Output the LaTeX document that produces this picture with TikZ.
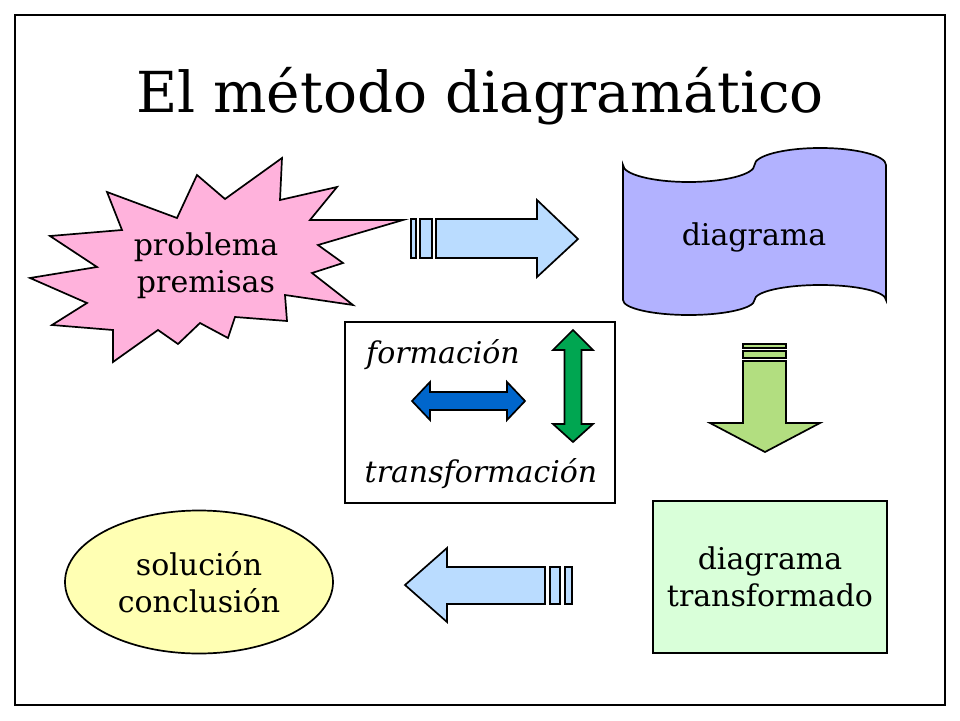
\documentclass[tikz,border=0pt]{standalone}
\usepackage{fontspec}
\setmainfont{DejaVu Serif}
\usetikzlibrary{shapes.geometric}
\definecolor{burstpink}{RGB}{255,178,220}
\definecolor{tapeblue}{RGB}{178,178,255}
\definecolor{arrowblue}{RGB}{186,220,255}
\definecolor{arrowgreen}{RGB}{178,222,128}
\definecolor{darkblue}{RGB}{0,102,204}
\definecolor{darkgreen}{RGB}{0,166,81}
\definecolor{paleyellow}{RGB}{255,255,179}
\definecolor{palegreen}{RGB}{217,255,217}
\tikzset{
  outline/.style={draw=black, line width=1.7pt, line join=miter},
  bodytext/.style={font=\fontsize{30}{37}\selectfont, align=center, inner sep=0pt},
  italtext/.style={font=\fontsize{30}{37}\selectfont\itshape, inner sep=0pt},
}
\begin{document}
\begin{tikzpicture}[x=1pt,y=-1pt]
\useasboundingbox (0,0) rectangle (960,720);
% frame
\draw[line width=1.5pt] (15,15) rectangle (945,705);
% title
\node[font=\fontsize{56.5}{60}\selectfont, anchor=base, inner sep=0pt] (title) at (480,112) {El método diagramático};

% starburst
\draw[outline, fill=burstpink]
  (353,305) -- (285,295) -- (287,321) -- (235,317) -- (228,338) -- (200,323)
  -- (178,344) -- (158,330) -- (113,362) -- (113,330) -- (52,325) -- (87,303)
  -- (30,278) -- (97,267) -- (50,236) -- (122,230) -- (107,192) -- (177,218)
  -- (197,175) -- (225,199) -- (282,158) -- (280,200) -- (337,187) -- (310,220)
  -- (403,220) -- (318,245) -- (343,263) -- (312,273) -- cycle;
\node[bodytext] (prob) at (206,266) {problema\\premisas};

% top arrow
\draw[outline, fill=arrowblue] (411,219) rectangle (416,258);
\draw[outline, fill=arrowblue] (420,219) rectangle (432,258);
\draw[outline, fill=arrowblue] (436,219) -- (537,219) -- (537,200) -- (578,239)
  -- (537,277) -- (537,258) -- (436,258) -- cycle;

% diagram (punched tape)
\draw[outline, fill=tapeblue]
  (623,165) arc[start angle=180, end angle=0, x radius=65.75, y radius=17]
  arc[start angle=180, end angle=360, x radius=65.75, y radius=17]
  -- (886,300)
  arc[start angle=0, end angle=-180, x radius=65.75, y radius=15]
  arc[start angle=0, end angle=180, x radius=65.75, y radius=15]
  -- cycle;
\node[bodytext, anchor=base] (diag) at (754,245) {diagrama};

% down arrow
\draw[outline, fill=arrowgreen] (743,344) rectangle (786,348);
\draw[outline, fill=arrowgreen] (743,351) rectangle (786,358);
\draw[outline, fill=arrowgreen] (743,361) -- (786,361) -- (786,423) -- (820,423)
  -- (765,452) -- (710,423) -- (743,423) -- cycle;

% central box
\draw[draw=black, line width=2pt] (345,322) rectangle (615,503);
\node[italtext, anchor=base] (form) at (443,363) {formación};
\node[italtext, anchor=base] (trans) at (481,482) {transformación};
\draw[outline, fill=darkblue] (412,401) -- (430,382) -- (430,392) -- (507,392)
  -- (507,382) -- (525,401) -- (507,420) -- (507,410) -- (430,410) -- (430,420) -- cycle;
\draw[outline, fill=darkgreen] (573,330) -- (593,350) -- (581.5,350) -- (581.5,424)
  -- (593,424) -- (573,442) -- (553,424) -- (564.5,424) -- (564.5,350) -- (553,350) -- cycle;

% transformed diagram
\node[outline, line width=2pt, fill=palegreen, minimum width=234pt, minimum height=152pt,
  bodytext] (tdiag) at (770,577) {diagrama\\transformado};

% bottom arrow
\draw[outline, fill=arrowblue] (550,567) rectangle (560,604);
\draw[outline, fill=arrowblue] (565,567) rectangle (572,604);
\draw[outline, fill=arrowblue] (545,567) -- (447,567) -- (447,548) -- (405,585)
  -- (447,622) -- (447,604) -- (545,604) -- cycle;

% solution ellipse
\node[ellipse, outline, fill=paleyellow, minimum width=268pt, minimum height=143pt,
  bodytext] (sol) at (199,582) {solución\\conclusión};
\end{tikzpicture}
\end{document}
